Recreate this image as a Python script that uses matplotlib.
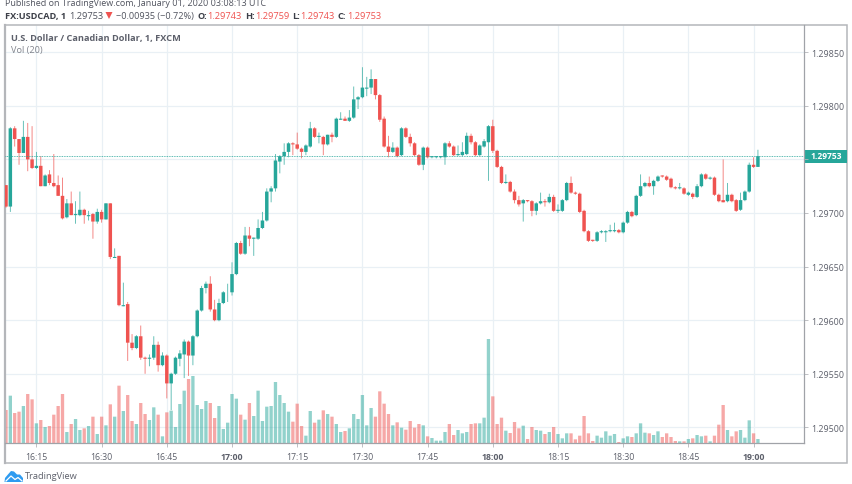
import matplotlib
matplotlib.use('Agg')
import matplotlib.pyplot as plt
from matplotlib.patches import Rectangle, Polygon

# prezzi, in punti sopra 1.29000
opens = [726,706,779,769,756,771,750,742,744,725,
         736,728,726,716,696,709,698,698,703,697,
         699,692,701,694,709,658,660,613,615,579,
         574,585,565,564,565,577,558,567,541,550,
         564,568,580,567,585,609,630,634,610,600,
         616,626,626,643,672,662,679,676,676,686,
         693,720,723,748,753,757,765,764,760,757,
         762,779,771,771,764,773,771,787,788,786,
         789,806,808,816,817,825,810,788,762,757,
         761,754,779,771,765,754,745,761,752,752,
         752,752,765,762,754,754,755,772,766,754,
         762,766,781,758,743,728,729,720,712,709,
         712,711,702,709,711,710,715,702,702,712,
         728,719,718,702,683,675,674,682,682,683,
         683,684,682,691,701,698,716,725,728,725,
         730,735,734,732,724,723,723,717,718,715,
         725,736,732,733,717,712,711,717,712,703,
         712,720,745,743]
highs = [726,780,781,769,786,784,781,757,753,736,
         740,755,735,733,713,720,711,720,704,702,
         700,704,703,709,709,667,660,635,617,587,
         586,595,566,568,585,580,570,568,551,566,
         572,582,581,586,610,632,636,641,619,620,
         627,634,654,673,674,687,687,677,694,701,
         723,725,755,754,765,766,766,775,761,764,
         785,780,775,772,773,775,789,794,790,796,
         818,809,836,827,834,825,811,790,772,766,
         762,780,780,774,766,755,762,762,753,753,
         753,766,767,763,763,766,775,774,767,764,
         769,782,787,759,744,736,730,722,716,713,
         712,712,710,719,713,718,717,708,713,729,
         734,720,719,703,684,675,683,684,684,689,
         691,685,692,702,702,717,736,729,734,731,
         735,735,735,733,725,728,724,720,719,727,
         737,737,734,734,718,750,728,718,713,719,
         721,747,752,759]
lows = [705,701,762,745,756,739,741,741,725,725,
        726,724,716,694,695,698,690,697,690,693,
        676,690,691,694,657,658,613,613,562,572,
        573,563,550,557,563,552,557,527,516,549,
        557,546,548,558,584,608,625,608,599,599,
        615,617,623,642,661,661,669,660,675,685,
        692,710,720,737,745,752,754,759,751,754,
        761,770,765,754,763,766,770,787,786,785,
        788,797,807,809,811,806,785,761,752,756,
        752,753,770,762,753,744,740,751,751,751,
        751,745,761,753,753,753,754,764,753,753,
        761,730,756,742,727,727,719,709,706,692,
        710,697,698,708,706,709,701,700,701,711,
        718,717,700,682,673,673,673,681,673,682,
        682,681,681,690,696,697,715,724,724,717,
        729,733,730,723,722,722,717,716,713,714,
        724,731,731,716,710,710,710,710,701,702,
        711,719,742,743]
closes = [706,779,769,756,771,750,742,744,725,735,
          728,725,716,695,709,698,699,703,698,698,
          692,701,694,709,659,659,614,614,579,574,
          585,565,564,565,577,558,567,541,550,565,
          569,580,567,585,609,630,634,610,600,616,
          626,626,643,672,662,679,676,677,686,693,
          720,723,749,753,757,765,764,760,757,763,
          779,771,772,764,773,771,788,788,786,789,
          806,808,817,817,825,810,787,762,757,761,
          753,779,771,765,754,745,761,752,753,753,
          753,765,762,754,755,757,772,766,754,763,
          767,781,758,743,728,729,720,712,708,712,
          711,702,709,711,710,715,702,703,712,728,
          719,718,701,683,674,674,682,683,683,684,
          684,682,691,701,697,716,725,728,725,730,
          734,734,731,724,723,724,718,719,715,725,
          736,732,733,717,711,710,717,711,702,712,
          720,745,743,753]
volumes = [99,142,90,94,111,147,131,59,69,48,
           51,85,111,147,33,57,72,39,44,51,
           79,27,79,53,116,79,172,96,144,66,
           57,120,87,69,107,85,20,92,97,48,
           117,157,192,201,114,102,126,120,75,111,
           42,61,147,133,85,70,120,81,157,66,
           109,111,183,144,120,94,64,118,51,22,
           96,61,70,98,87,79,57,33,36,44,
           87,72,144,53,105,79,155,118,87,53,
           62,46,40,66,46,57,53,20,15,7,
           7,33,57,24,39,29,33,57,59,59,
           76,312,140,57,76,37,30,63,44,52,
           12,48,39,37,27,33,48,27,14,29,
           29,11,22,81,29,6,22,16,35,22,
           27,3,14,20,18,29,59,31,29,24,
           35,18,29,18,6,5,5,12,14,24,
           20,22,5,22,55,114,39,20,35,39,
           16,68,29,12]

time_ticks = [7, 22, 37, 52, 67, 82, 97, 112, 127, 142, 157, 172]
time_labels = ['16:15', '16:30', '16:45', '17:00', '17:15', '17:30',
               '17:45', '18:00', '18:15', '18:30', '18:45', '19:00']
bold_labels = ['17:00', '18:00', '19:00']
price_ticks = [500, 550, 600, 650, 700, 750, 800, 850]
last_price = 753

GREEN = '#26a69a'
RED = '#ef5350'
GRID = '#e9f0f5'
FRAME = '#b4b6ba'
TXT = '#5d606b'

plt.rcParams['font.family'] = ['Open Sans', 'DejaVu Sans']

W, H = 852, 485
fig = plt.figure(figsize=(W / 100, H / 100), dpi=100)


def fx(x):
    return x / W


def fy(y):
    return 1 - y / H


ax = fig.add_axes([fx(5), fy(444), (804 - 5) / W, (444 - 26) / H])
ax.set_xlim(-0.23, 183.6)
ax.set_ylim(485.4, 875.4)
ax.set_zorder(2)
ax.patch.set_alpha(0)

# griglia dietro ai volumi
vgrid = fig.add_axes(ax.get_position())
vgrid.set_xlim(ax.get_xlim())
vgrid.set_ylim(ax.get_ylim())
vgrid.axis('off')
vgrid.set_zorder(0)
vgrid.vlines(time_ticks, *ax.get_ylim(), color=GRID, linewidth=0.9)
vgrid.hlines(price_ticks, *ax.get_xlim(), color=GRID, linewidth=0.9)

# volume sotto le candele
vax = fig.add_axes(ax.get_position())
vax.set_xlim(ax.get_xlim())
vax.set_ylim(0, 1254)
vax.axis('off')
vax.set_zorder(1)

idx = list(range(len(opens)))
colors = [GREEN if c >= o else RED for o, c in zip(opens, closes)]

vbars = vax.bar(idx, volumes, width=0.76, color=colors, alpha=0.5, linewidth=0)
for b in vbars:
    b.set_snap(False)

wicks = ax.vlines(idx, lows, highs, colors=colors, linewidth=0.65, alpha=0.75, zorder=3)
wicks.set_snap(False)
bodies = ax.bar(idx, [abs(c - o) for o, c in zip(opens, closes)],
                bottom=[min(o, c) for o, c in zip(opens, closes)],
                width=0.8, color=colors, linewidth=0, zorder=4)
for b in bodies:
    b.set_snap(False)

ax.axhline(last_price, color=GREEN, linestyle=(0, (1, 1)), linewidth=0.6, zorder=5)

ax.set_xticks(time_ticks)
ax.set_xticklabels(time_labels, fontsize=6.3, color=TXT)
for lab in ax.get_xticklabels():
    if lab.get_text() in bold_labels:
        lab.set_fontweight('bold')
ax.set_yticks(price_ticks)
# 1.29750 sta sotto l'etichetta verde del prezzo
ax.set_yticklabels(['' if p == 750 else '%.5f' % (1.29 + p / 100000) for p in price_ticks],
                   fontsize=6.4, color=TXT)
ax.yaxis.tick_right()
ax.tick_params(axis='x', length=3, width=0.6, color=FRAME, pad=3.5)
ax.tick_params(axis='y', length=3, width=0.6, color=FRAME, pad=2)
for s in ['top', 'left']:
    ax.spines[s].set_visible(False)
for s in ['right', 'bottom']:
    ax.spines[s].set_color('#a0a3a8')
    ax.spines[s].set_linewidth(0.9)

# cornice esterna
fig.add_artist(Rectangle((fx(4.5), fy(464)), (847 - 4.5) / W, (464 - 26) / H,
                         transform=fig.transFigure, fill=False,
                         edgecolor=FRAME, linewidth=1.1))
fig.add_artist(plt.Line2D([fx(4.8), fx(4.8)], [fy(464), fy(26)], transform=fig.transFigure,
                          color=FRAME, linewidth=1.6))

# etichetta ultimo prezzo
fig.add_artist(Rectangle((fx(804), fy(163.5)), 43 / W, 13 / H,
                         transform=fig.transFigure, facecolor=GREEN, edgecolor='none'))
fig.text(fx(810.5), fy(157), '%.5f' % (1.29 + last_price / 100000), color='white',
         fontsize=6.1, fontweight='bold', va='center')

# intestazione
fig.text(fx(5), fy(4), 'Published on TradingView.com, January 01, 2020 03:08:13 UTC',
         fontsize=6.45, color='#50535e', va='center')
head_y = fy(16.5)
fig.text(fx(5), head_y, 'FX:USDCAD, 1', fontsize=6.6, fontweight='bold', color='#3c3f48', va='center')
fig.text(fx(69), head_y, '1.29753', fontsize=6.7, color='#50535e', va='center')
fig.add_artist(Polygon([(fx(105.5), fy(13)), (fx(112.5), fy(13)), (fx(109), fy(20))],
                       transform=fig.transFigure, facecolor=RED, edgecolor='none'))
fig.text(fx(116), head_y, '\u22120.00935 (\u22120.72%)', fontsize=6.6, color='#50535e', va='center')
for x1, name, x2, val in [(197, 'O:', 207, '1.29743'), (245, 'H:', 255, '1.29759'),
                          (292, 'L:', 300, '1.29743'), (337, 'C:', 347, '1.29753')]:
    fig.text(fx(x1), head_y, name, fontsize=6.6, fontweight='bold', color='#3c3f48', va='center')
    fig.text(fx(x2), head_y, val, fontsize=6.7, color=RED, va='center')

fig.text(fx(11), fy(38.5), 'U.S. Dollar / Canadian Dollar, 1, FXCM', fontsize=6.6,
         fontweight='bold', color='#5d606b', va='center')
fig.text(fx(11), fy(50.5), 'Vol (20)', fontsize=6.6, color='#80838c', va='center')

# logo in basso
fig.add_artist(Polygon([(fx(4.5), fy(483)), (fx(5), fy(479)), (fx(7.5), fy(476)), (fx(11), fy(472)),
                        (fx(14), fy(472.5)), (fx(17), fy(475.5)), (fx(20), fy(475.5)), (fx(23), fy(479)),
                        (fx(23), fy(483))],
                       transform=fig.transFigure, facecolor='#2e9bf0', edgecolor='none'))
fig.add_artist(plt.Line2D([fx(6), fx(11), fx(15), fx(18), fx(22)],
                          [fy(482), fy(477), fy(480.5), fy(478.5), fy(482)],
                          transform=fig.transFigure, color='white', linewidth=0.9))
fig.text(fx(24.5), fy(477), 'TradingView', fontsize=6.7, color='#5d606b', va='center')

fig.savefig('out.png', dpi=100)
